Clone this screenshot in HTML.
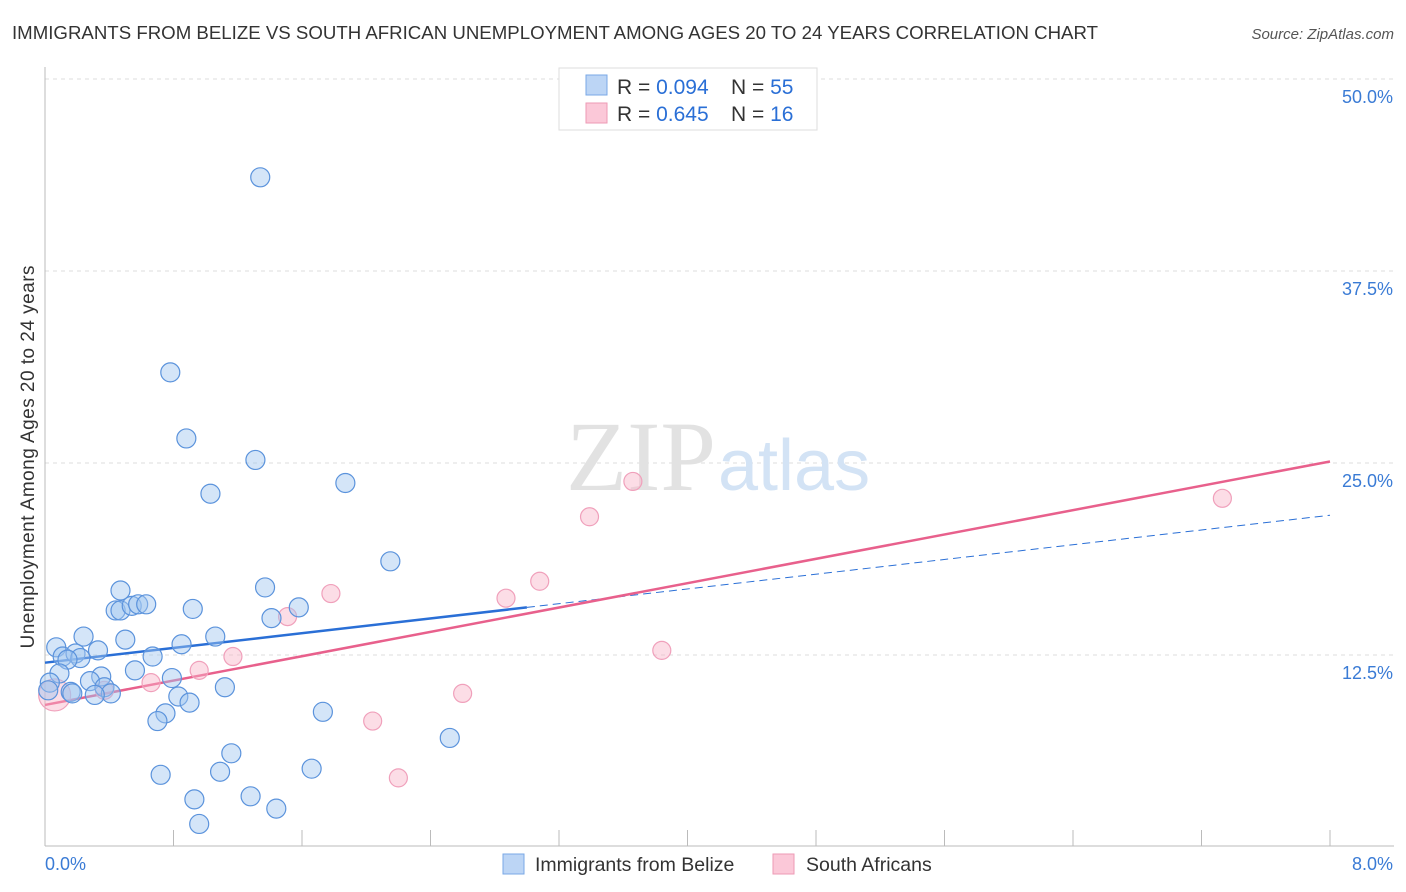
<!DOCTYPE html>
<html><head><meta charset="utf-8"><style>
body{margin:0;background:#fff;font-family:"Liberation Sans",sans-serif}
svg{display:block}
</style></head><body>
<svg id="chart" width="1406" height="892">
<text x="12" y="39" font-size="18.5" fill="#333" textLength="1086" lengthAdjust="spacingAndGlyphs">IMMIGRANTS FROM BELIZE VS SOUTH AFRICAN UNEMPLOYMENT AMONG AGES 20 TO 24 YEARS CORRELATION CHART</text>
<text x="1394" y="39" font-size="15" fill="#555" font-style="italic" text-anchor="end">Source: ZipAtlas.com</text>
<text x="34" y="457" font-size="19" fill="#333" text-anchor="middle" textLength="383" transform="rotate(-90 34 457)">Unemployment Among Ages 20 to 24 years</text>
<g id="grid"></g>
<text x="716" y="490" font-size="100" fill="#e2e2e2" text-anchor="end" font-family="Liberation Serif,serif">ZIP</text>
<text x="718" y="490" font-size="72" fill="#d3e3f5">atlas</text>
<g id="lines"></g>
<g id="points"></g>
<g>
<rect x="559" y="68" width="258" height="62" fill="#fff" stroke="#ddd"/>
<rect x="586" y="75" width="21" height="20" fill="#bcd5f5" stroke="#7aa8e6"/>
<rect x="586" y="103" width="21" height="20" fill="#fbc8d8" stroke="#ee9ab5"/>
<text x="617" y="94" font-size="21" fill="#333">R = <tspan fill="#2a6fd6">0.094</tspan></text>
<text x="731" y="94" font-size="21" fill="#333">N = <tspan fill="#2a6fd6">55</tspan></text>
<text x="617" y="121" font-size="21" fill="#333">R = <tspan fill="#2a6fd6">0.645</tspan></text>
<text x="731" y="121" font-size="21" fill="#333">N = <tspan fill="#2a6fd6"> 16</tspan></text>
</g>
<g>
<rect x="503" y="854" width="21" height="20" fill="#bcd5f5" stroke="#7aa8e6"/>
<text x="535" y="871" font-size="19.5" fill="#333">Immigrants from Belize</text>
<rect x="773" y="854" width="21" height="20" fill="#fbc8d8" stroke="#ee9ab5"/>
<text x="806" y="871" font-size="19.5" fill="#333">South Africans</text>
</g>
</svg>
<script>
const yTicks=[12.5,25,37.5,50];
const yTickLabels=["12.5%","25.0%","37.5%","50.0%"];
const xTickLabels=["0.0%","8.0%"];
const belizeX=[1.34,0.78,0.88,1.31,1.03,1.87,2.15,1.37,0.47,0.44,0.47,0.54,0.58,0.63,0.92,1.58,1.41,0.24,0.50,0.85,1.06,0.07,0.11,0.19,0.22,0.33,0.14,0.67,0.56,0.35,0.09,0.28,0.79,0.37,0.41,0.31,1.12,0.83,0.90,0.75,0.70,1.73,0.03,0.02,0.16,2.52,1.16,0.72,1.09,1.66,0.93,1.28,1.44,0.96,0.17];
const belizeY=[43.6,30.9,26.6,25.2,23.0,23.7,18.6,16.9,16.7,15.4,15.4,15.7,15.8,15.8,15.5,15.6,14.9,13.7,13.5,13.2,13.7,13.0,12.4,12.6,12.3,12.8,12.2,12.4,11.5,11.1,11.3,10.8,11.0,10.4,10.0,9.9,10.4,9.8,9.4,8.7,8.2,8.8,10.7,10.2,10.1,7.1,6.1,4.7,4.9,5.1,3.1,3.3,2.5,1.5,10.0];
const saX=[0.06,0.66,0.96,1.17,1.51,1.78,2.04,2.20,2.60,2.87,3.08,3.39,3.66,3.84,7.33,0.37];
const saY=[9.9,10.7,11.5,12.4,15.0,16.5,8.2,4.5,10.0,16.2,17.3,21.5,23.8,12.8,22.7,10.2];
const belizeTrend=[12.0,21.6];
const belizeSolidEnd=3.0;
const saTrend=[9.25,25.1];
const NS="http://www.w3.org/2000/svg";
const X=v=>45+v/8*1285;
const Y=v=>847-v/12.5*192;
function mk(t,a,p){const e=document.createElementNS(NS,t);for(const k in a)e.setAttribute(k,a[k]);p.appendChild(e);return e;}
const grid=document.getElementById('grid');
yTicks.forEach((t,i)=>{
 const l=mk('line',{x1:45,x2:1394,y1:Y(t),y2:Y(t),stroke:'#ddd','stroke-dasharray':'4,4'},grid);
 
 
 const tx=mk('text',{x:1393,y:Y(t)+24,'font-size':18,fill:'#3a7bd5','text-anchor':'end'},grid);
 tx.textContent=yTickLabels[i];
 
 
});
mk('line',{x1:45,x2:45,y1:67,y2:846,stroke:'#bbb'},grid);
mk('line',{x1:45,x2:1394,y1:846,y2:846,stroke:'#bbb'},grid);
for(let i=1;i<=10;i++){const x=X(i*0.8);mk('line',{x1:x,x2:x,y1:830,y2:846,stroke:'#bbb'},grid);}
[[0,'start',45],[1,'end',1393]].forEach(([i,a,x])=>{
 const tx=mk('text',{x:x,y:870,'font-size':18,fill:'#3a7bd5','text-anchor':a},grid);
 tx.textContent=xTickLabels[i];
 
 
});
const lines=document.getElementById('lines');
const bt=x=>belizeTrend[0]+(belizeTrend[1]-belizeTrend[0])*x/8;
const l1=mk('line',{x1:X(0),y1:Y(bt(0)),x2:X(belizeSolidEnd),y2:Y(bt(belizeSolidEnd)),stroke:'#2a6fd6','stroke-width':2.5},lines);


const l2=mk('line',{x1:X(belizeSolidEnd),y1:Y(bt(belizeSolidEnd)),x2:X(8),y2:Y(bt(8)),stroke:'#2a6fd6','stroke-width':1,'stroke-dasharray':'8,5'},lines);


const l3=mk('line',{x1:X(0),y1:Y(saTrend[0]),x2:X(8),y2:Y(saTrend[1]),stroke:'#e8608c','stroke-width':2.5},lines);


const pts=document.getElementById('points');
saX.forEach((x,i)=>{
 const c=mk('circle',{cx:X(x),cy:Y(saY[i]),r:i===0?16:9,fill:'rgba(248,180,200,0.45)',stroke:'#f0a0bb','stroke-width':1.2},pts);
 
 
});
belizeX.forEach((x,i)=>{
 const c=mk('circle',{cx:X(x),cy:Y(belizeY[i]),r:9.5,fill:'rgba(160,198,240,0.45)',stroke:'#5b93dc','stroke-width':1.2},pts);
 
 
});
</script>
</body></html>
